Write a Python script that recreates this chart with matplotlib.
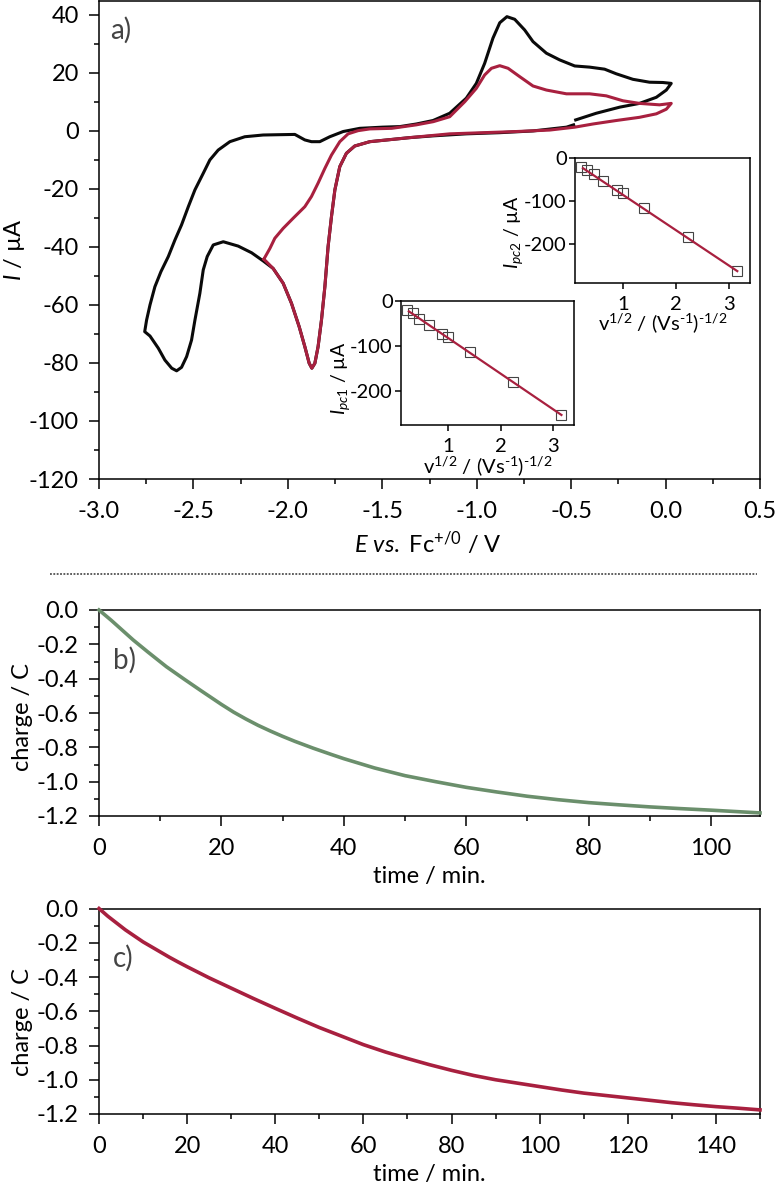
import matplotlib as mpl
mpl.use('Agg')
from matplotlib import pyplot as plt
from matplotlib.lines import Line2D
from matplotlib.ticker import MultipleLocator, FormatStrFormatter

# cyclic voltammograms
black_E = [-0.476, -0.367, -0.243, -0.138, -0.049, 0.004, 0.03, -0.014, -0.085, -0.173, -0.261, -0.323, -0.402,
           -0.481, -0.561, -0.631, -0.702, -0.746, -0.799, -0.84, -0.878, -0.914, -0.958, -1.002, -1.055, -1.143,
           -1.231, -1.319, -1.407, -1.5, -1.619, -1.707, -1.778, -1.831, -1.875, -1.91, -1.963, -2.05, -2.131,
           -2.228, -2.307, -2.369, -2.413, -2.448, -2.492, -2.527, -2.563, -2.598, -2.633, -2.672, -2.704, -2.73,
           -2.748, -2.758, -2.73, -2.686, -2.651, -2.615, -2.589, -2.563, -2.536, -2.51, -2.492, -2.466, -2.448,
           -2.427, -2.395, -2.342, -2.263, -2.192, -2.131, -2.078, -2.025, -1.981, -1.94, -1.91, -1.887, -1.873,
           -1.857, -1.84, -1.822, -1.804, -1.787, -1.769, -1.751, -1.725, -1.69, -1.646, -1.566, -1.354, -1.231,
           -1.055, -0.878, -0.702, -0.525, -0.487]
black_I = [3.8, 6.1, 8.2, 9.5, 11.6, 14.1, 16.4, 16.7, 16.8, 17.8, 19.7, 21.3, 22.0,
           22.4, 24.5, 26.8, 30.8, 34.8, 38.5, 39.4, 37.3, 32.0, 23.3, 16.4, 11.3, 6.1,
           3.6, 2.4, 1.5, 1.3, 0.9, -0.2, -2.0, -3.7, -3.7, -3.1, -1.2, -1.3, -1.4,
           -2.0, -3.7, -6.6, -10.0, -14.6, -20.3, -26.1, -32.4, -37.6, -43.3, -48.5, -53.7, -60.0,
           -65.2, -69.2, -70.7, -74.9, -79.0, -81.8, -82.7, -81.5, -77.8, -72.1, -65.2, -56.0, -47.9,
           -43.3, -39.3, -38.2, -39.7, -42.0, -44.8, -47.4, -52.5, -59.4, -67.5, -74.4, -80.1, -81.8,
           -80.1, -74.4, -65.2, -53.7, -39.9, -29.5, -20.3, -12.3, -7.7, -5.2, -3.7, -2.3, -1.7,
           -1.0, -0.6, 0.0, 1.3, 2.1]

red_E = [-2.127, -2.095, -2.069, -2.025, -1.972, -1.91, -1.875, -1.84, -1.804, -1.769, -1.725, -1.681, -1.628,
         -1.566, -1.45, -1.32, -1.23, -1.143, -1.063, -1.002, -0.958, -0.922, -0.878, -0.834, -0.772, -0.702,
         -0.631, -0.525, -0.402, -0.314, -0.226, -0.138, -0.032, 0.03, 0.004, -0.049, -0.138, -0.261, -0.384,
         -0.481, -0.614, -0.79, -0.966, -1.143, -1.354, -1.566, -1.646, -1.69, -1.725, -1.751, -1.769, -1.787,
         -1.804, -1.822, -1.84, -1.857, -1.873, -1.887, -1.91, -1.94, -1.981, -2.025, -2.078, -2.127]
red_I = [-44.2, -40.5, -37.0, -33.6, -30.1, -26.1, -22.6, -18.0, -12.9, -8.3, -3.7, -1.0, 0.1,
         0.7, 0.9, 2.1, 3.2, 4.9, 10.1, 14.7, 19.3, 21.6, 22.5, 21.6, 18.7, 15.5,
         14.1, 12.8, 12.8, 12.1, 10.4, 9.5, 9.0, 9.5, 7.5, 5.9, 4.7, 3.6, 2.4,
         1.3, 0.3, -0.2, -0.6, -1.0, -2.3, -3.7, -5.2, -7.7, -12.3, -20.3, -29.5, -39.9,
         -53.7, -65.2, -74.4, -80.1, -81.8, -80.1, -74.4, -67.5, -59.4, -52.5, -47.4, -44.2]

# peak current vs. square root of scan rate
sqrt_v = [0.22, 0.32, 0.45, 0.63, 0.89, 1.0, 1.41, 2.24, 3.16]
ipc2 = [-20, -27, -37, -53, -74, -80, -116, -184, -263]
ipc1 = [-21, -27, -40, -53, -73, -81, -113, -180, -253]
fit_v = [0.25, 3.16]
fit_ipc2 = [-23, -263]
fit_ipc1 = [-23, -253]

# charge curves
time_b = [0, 2, 5.6, 8, 11, 14, 16.5, 20, 22, 24, 26, 28, 30, 32, 35, 38, 40, 45, 50, 55, 60, 65, 70, 75, 80, 85,
          90, 95, 100, 104, 108]
charge_b = [0, -0.06, -0.175, -0.245, -0.33, -0.405, -0.466, -0.55, -0.595, -0.635, -0.672, -0.705, -0.736, -0.765,
            -0.805, -0.842, -0.866, -0.92, -0.965, -1.0, -1.033, -1.06, -1.085, -1.105, -1.122, -1.135,
            -1.147, -1.157, -1.166, -1.174, -1.182]
time_c = [0, 2, 4, 6, 8, 10, 12, 14, 16, 18, 20, 25, 30, 35, 40, 45, 50, 55, 60, 65, 70, 75, 80, 85, 90, 95, 100,
          105, 110, 115, 120, 125, 130, 135, 140, 145, 150]
charge_c = [0, -0.045, -0.085, -0.125, -0.16, -0.195, -0.225, -0.255, -0.285, -0.313, -0.34, -0.405, -0.465, -0.525,
            -0.583, -0.64, -0.695, -0.745, -0.795, -0.838, -0.876, -0.912, -0.945, -0.975, -1.0, -1.02, -1.04,
            -1.06, -1.078, -1.092, -1.106, -1.12, -1.134, -1.146, -1.157, -1.166, -1.176]

BLACK = '#0a0a0a'
RED = '#a8203f'
GREEN = '#6b8f6c'
W, H = 775, 1185

plt.rcParams['font.family'] = 'Lato'
plt.rcParams['axes.unicode_minus'] = False
plt.rcParams['mathtext.fontset'] = 'custom'
plt.rcParams['mathtext.rm'] = 'Lato'
plt.rcParams['mathtext.it'] = 'Lato:italic'
plt.rcParams['mathtext.default'] = 'regular'
plt.rcParams['axes.linewidth'] = 1.1
plt.rcParams['text.color'] = '#1a1a1a'


def px_axes(left, top, right, bottom):
    return fig.add_axes([left / W, 1 - bottom / H, (right - left) / W, (bottom - top) / H])


def ticks(ax, size=17):
    ax.tick_params(which='major', length=7.5, width=1.1, labelsize=size)
    ax.tick_params(which='minor', length=3.6, width=1.1)
    ax.tick_params(axis='x', which='major', pad=8.5)
    ax.tick_params(axis='y', which='major', pad=7)


fig = plt.figure(figsize=(W / 100, H / 100), dpi=100)

# a) CV
ax = px_axes(99, 1, 760, 479)
ax.plot(black_E, black_I, color=BLACK, lw=2.2, solid_joinstyle='round')
ax.plot(red_E, red_I, color=RED, lw=2.2, solid_joinstyle='round')
ax.set_xlim(-3.0, 0.5)
ax.set_ylim(-120, 44.8)
ax.xaxis.set_major_locator(MultipleLocator(0.5))
ax.xaxis.set_minor_locator(MultipleLocator(0.25))
ax.yaxis.set_major_locator(MultipleLocator(20))
ax.yaxis.set_minor_locator(MultipleLocator(10))
ax.xaxis.set_major_formatter(FormatStrFormatter('%.1f'))
ticks(ax)
ax.set_xlabel(r'$\mathit{E}$ $\mathit{vs.}$ Fc$^{+/0}$ / V', fontsize=17)
ax.xaxis.set_label_coords(0.497, -0.105)
ax.set_ylabel(r'$\mathit{I}$ / µA', fontsize=17)
ax.yaxis.set_label_coords(-0.109, 0.48)
ax.text(110 / W, 1 - 30 / H, 'a)', transform=fig.transFigure, fontsize=20, color='#444444', va='center')

# insets
for box, ys, fit, lab, ymin, lab_x, lab_y in [((401, 301, 574, 425.3), ipc1, fit_ipc1, 'pc1', -276, -0.285, 0.38),
                                              ((575, 158.3, 750, 282.7), ipc2, fit_ipc2, 'pc2', -290, -0.285, 0.41)]:
    ins = px_axes(*box)
    ins.plot(sqrt_v, ys, ls='none', marker='s', ms=6.5, mfc='none', mec='#444444', mew=0.8)
    ins.plot(fit_v, fit, color=RED, lw=1.6)
    ins.set_xlim(0.10, 3.40)
    ins.set_ylim(ymin, 0)
    ins.set_xticks([1, 2, 3])
    ins.set_yticks([0, -100, -200])
    ins.tick_params(length=4.5, width=1.1, labelsize=14.5)
    ins.tick_params(axis='x', pad=5)
    ins.tick_params(axis='y', pad=1.5)
    ins.set_xlabel('v$^{1/2}$ / (Vs$^{\u20101}$)$^{\u20101/2}$', fontsize=14.5, labelpad=-1)
    ins.set_ylabel(r'$\mathit{I}_{\mathit{%s}}$ / µA' % lab, fontsize=14)
    ins.yaxis.set_label_coords(lab_x, lab_y)

# separator
fig.add_artist(Line2D([50 / W, 757 / W], [1 - 574 / H, 1 - 574 / H], color='#333333', lw=1.1, ls=(0, (1.2, 1.0))))

# b) and c) charge
for box, t, q, col, xmax, lab, lab_y in [((99, 610, 760, 816), time_b, charge_b, GREEN, 108, 'b)', 0.48),
                                         ((99, 908.5, 760, 1114), time_c, charge_c, RED, 150, 'c)', 0.45)]:
    ax = px_axes(*box)
    ax.plot(t, q, color=col, lw=2.6, solid_joinstyle='round', clip_on=False, zorder=5)
    ax.set_xlim(0, xmax)
    ax.set_ylim(-1.2, 0)
    ax.xaxis.set_major_locator(MultipleLocator(20))
    ax.xaxis.set_minor_locator(MultipleLocator(10))
    ax.yaxis.set_major_locator(MultipleLocator(0.2))
    ax.yaxis.set_minor_locator(MultipleLocator(0.1))
    ax.yaxis.set_major_formatter(FormatStrFormatter('%.1f'))
    ticks(ax)
    ax.set_xlabel('time / min.', fontsize=17, labelpad=5)
    ax.set_ylabel('charge / C', fontsize=17)
    ax.yaxis.set_label_coords(-0.1, lab_y)
    ax.text(113 / W, 1 - (box[1] + 50) / H, lab, transform=fig.transFigure, fontsize=20, color='#444444', va='center')

fig.savefig('out.png', dpi=100)
